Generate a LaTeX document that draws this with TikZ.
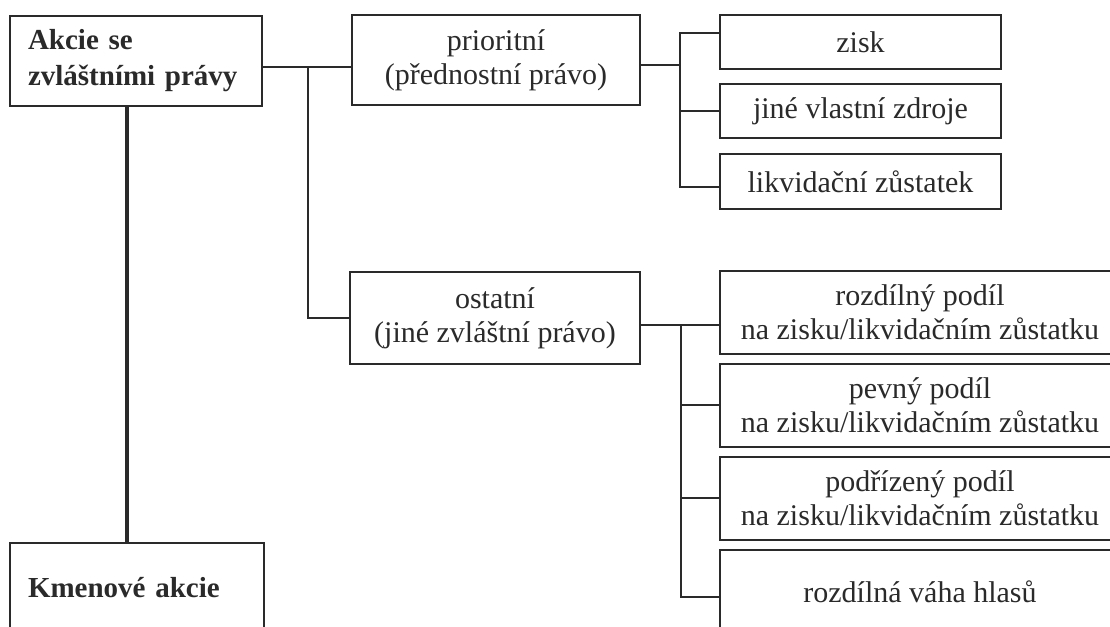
\documentclass[tikz,border=0pt]{standalone}
\usepackage{fontspec}
\setmainfont{Liberation Serif}
\definecolor{ink}{HTML}{2A2A2A}
\begin{document}
\begin{tikzpicture}[x=1pt,y=-1pt,
  box/.style={draw=ink, line width=1.7pt, inner sep=0pt, align=center, text=ink,
    font=\fontsize{30}{34}\selectfont},
  lbox/.style={box, align=left, inner xsep=18pt, font=\fontsize{29}{36}\selectfont\bfseries},
  conn/.style={draw=ink, line width=1.7pt},
  trunk/.style={draw=ink, line width=3.3pt}]
\useasboundingbox (0,0) rectangle (1110,626);
\clip (0,0) rectangle (1110,626);
\fill[white] (0,0) rectangle (1110,626);
% left column
\node[lbox, text width=216pt, minimum height=90pt] (A) at (136,61) {Akcie se\\zvláštními práv{y}};
\node[lbox, text width=218pt, minimum height=90pt] (K) at (137,588) {Kmenové akcie};
% middle
\node[box, minimum width=288pt, minimum height=90pt] (P) at (496,60) {prioritní\\(přednostní právo)};
\node[box, minimum width=290pt, minimum height=92pt] (O) at (495,318) {ostatní\\(jiné zvláštní právo)};
% right upper
\node[box, minimum width=281pt, minimum height=54pt] (Z) at (860.5,42) {zisk};
\node[box, minimum width=281pt, minimum height=54pt] (J) at (860.5,111) {jiné vlastní zdroje};
\node[box, minimum width=281pt, minimum height=55pt] (L) at (860.5,181.5) {likvidační zůstatek};
% right lower
\node[box, minimum width=400pt, minimum height=83pt] (R1) at (920,312.5) {rozdílný podíl\\na zisku/likvidačním zůstatku};
\node[box, minimum width=400pt, minimum height=83pt] (R2) at (920,405.5) {pevný podíl\\na zisku/likvidačním zůstatku};
\node[box, minimum width=400pt, minimum height=83pt] (R3) at (920,498.5) {podřízený podíl\\na zisku/likvidačním zůstatku};
\node[box, minimum width=400pt, minimum height=83pt] (R4) at (920,591.5) {rozdílná váha hlasů};
% junction coordinates
\coordinate (ak) at (127,0);
\coordinate (j1) at (308,67);
\coordinate (j2) at (680,65);
\coordinate (bz) at (680,33);
\coordinate (bl) at (680,187);
\coordinate (j3) at (681,325);
\coordinate (b2) at (681,405);
\coordinate (b3) at (681,498);
\coordinate (b4) at (681,597);
% connectors
\draw[trunk] (ak |- A.south) -- (ak |- K.north);
\draw[conn] (A.east |- j1) -- (P.west |- j1);
\draw[conn] (j1) |- (O.west);
\draw[conn] (P.east |- j2) -- (j2);
\draw[conn] (Z.west |- bz) -- (bz) -- (bl) -- (L.west |- bl);
\draw[conn] (bz |- J.west) -- (J.west);
\draw[conn] (O.east |- j3) -- (R1.west |- j3);
\draw[conn] (j3) -- (b4) -- (R4.west |- b4);
\draw[conn] (b2) -- (R2.west |- b2);
\draw[conn] (b3) -- (R3.west |- b3);
\end{tikzpicture}
\end{document}
